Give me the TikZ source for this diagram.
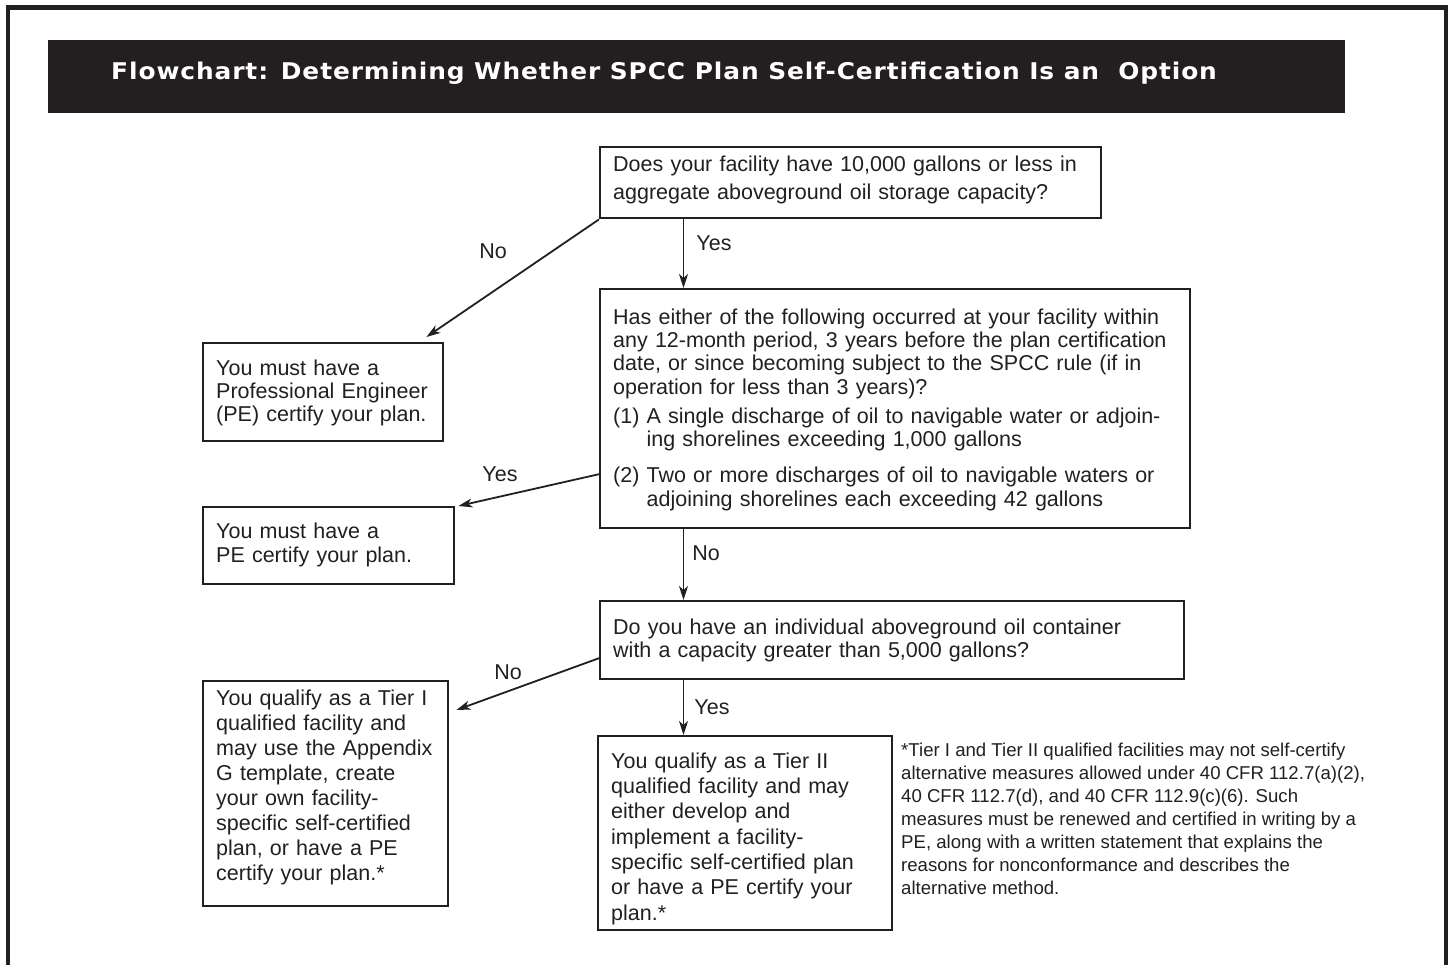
\documentclass[tikz,border=0pt]{standalone}
\usepackage{fontspec}
\setmainfont{Liberation Sans}
\newfontfamily\titlefont[FakeStretch=1.08,LetterSpace=4.0]{DejaVu Sans}
\usetikzlibrary{arrows.meta,positioning,calc}
\definecolor{ink}{HTML}{231F20}

\begin{document}
\begin{tikzpicture}[x=1pt,y=-1pt,
  box/.style={draw=ink, line width=2.4pt, anchor=north west, align=left,
    inner xsep=13pt, inner ysep=0pt, text=ink},
  arr/.style={draw=ink, line width=1.8pt, -{Stealth[length=14pt,width=9pt,inset=4pt]}},
  lbl/.style={text=ink, font=\fontsize{21.5}{26}\selectfont}]
\useasboundingbox (0,0) rectangle (1449,965);
% frame and title bar
\draw[ink, line width=4.5pt] (8,975) -- (8,7.5) -- (1446,7.5) -- (1446,975);
\fill[ink] (48,40) rectangle (1345,113);
\node[anchor=base west, inner sep=0pt, text=white,
  font=\titlefont\bfseries\fontsize{23}{28}\selectfont] (title) at (111,80)
  {Flowchart: Determining Whether SPCC Plan Self-Certification Is an\ \ Option};

% questions
\node[box, text width=475pt, text height=24pt, text depth=47pt,
  font=\fontsize{21.5}{28}\selectfont] (q1) at (599,146)
  {Does your facility have 10,000 gallons or less in\\aggregate aboveground oil storage capacity?};
\node[box, text width=564pt, text height=35pt, text depth=204pt,
  font=\fontsize{21.5}{23.3}\selectfont] (q2) at (599,288)
  {Has either of the following occurred at your facility within\\
   any 12-month period, 3 years before the plan certification\\
   date, or since becoming subject to the SPCC rule (if in\\
   operation for less than 3 years)?\\[5.7pt]
   (1) A single discharge of oil to navigable water or adjoin-\\
   \phantom{(1)~}ing shorelines exceeding 1,000 gallons\\[13.2pt]
   (2) Two or more discharges of oil to navigable waters or\\
   \phantom{(2)~}adjoining shorelines each exceeding 42 gallons};
\node[box, text width=558pt, text height=33pt, text depth=45pt,
  font=\fontsize{21.5}{23}\selectfont] (q3) at (599,600)
  {Do you have an individual aboveground oil container\\with a capacity greater than 5,000 gallons?};

% answers
\node[box, text width=214pt, text height=32pt, text depth=66pt,
  font=\fontsize{21.5}{23}\selectfont] (pe1) at (202,342)
  {You must have a\\Professional Engineer\\(PE) certify your plan.};
\node[box, text width=225pt, text height=31pt, text depth=46pt,
  font=\fontsize{21.5}{24}\selectfont] (pe2) at (202,506)
  {You must have a\\PE certify your plan.};
\node[box, text width=219pt, text height=24pt, text depth=201pt,
  font=\fontsize{21.5}{25}\selectfont] (tier1) at (202,680)
  {You qualify as a Tier I\\qualified facility and\\may use the Appendix\\G template, create\\
   your own facility-\\specific self-certified\\plan, or have a PE\\certify your plan.*};
\node[box, text width=268pt, text height=32pt, text depth=162pt,
  font=\fontsize{21.5}{25.3}\selectfont] (tier2) at (597,735)
  {You qualify as a Tier II\\qualified facility and may\\either develop and\\implement a facility-\\
   specific self-certified plan\\or have a PE certify your\\plan.*};

% footnote
\node[anchor=north west, align=left, inner sep=0pt, text=ink,
  font=\fontsize{18.6}{23}\selectfont] (note) at (901,743)
  {*Tier I and Tier II qualified facilities may not self-certify\\
   alternative measures allowed under 40 CFR 112.7(a)(2),\\
   40 CFR 112.7(d), and 40 CFR 112.9(c)(6). Such\\
   measures must be renewed and certified in writing by a\\
   PE, along with a written statement that explains the\\
   reasons for nonconformance and describes the\\
   alternative method.};

% connectors
\coordinate (trunk) at (683.5,0);
\draw[arr] (q1.south west) -- ([xshift=-18pt,yshift=5pt]pe1.north east);
\draw[arr] (q1.south -| trunk) -- (q2.north -| trunk);
\draw[arr] ([yshift=-65.5pt]q2.west) -- ([xshift=3pt]pe2.north east);
\draw[arr] (q2.south -| trunk) -- (q3.north -| trunk);
\draw[arr] ([yshift=-18pt]q3.west) -- ([xshift=7pt,yshift=-30pt]tier1.north east);
\draw[arr] (q3.south -| trunk) -- (tier2.north -| trunk);

% labels
\node[lbl] (no1) at (493,251) {No};
\node[lbl] (yes1) at (714,243) {Yes};
\node[lbl] (yes2) at (500,474) {Yes};
\node[lbl] (no2) at (706,553) {No};
\node[lbl] (no3) at (508,672) {No};
\node[lbl] (yes3) at (712,707) {Yes};
\end{tikzpicture}
\end{document}
